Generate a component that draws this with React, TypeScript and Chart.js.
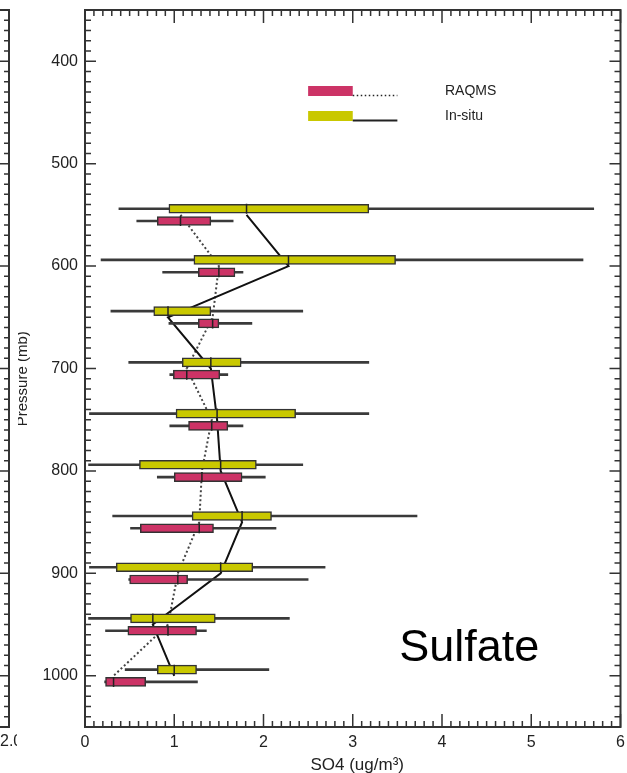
import { useEffect, useRef } from "react";
import { Chart, registerables } from "chart.js";

Chart.register(...registerables);

// Pressure layers (mb) – centre of each layer
const levels = [550, 600, 650, 700, 750, 800, 850, 900, 950, 1000];

// In-situ SO4 (ug/m3) statistics per layer
const insituMin = [0.38, 0.18, 0.29, 0.49, 0.05, 0.04, 0.31, 0.05, 0.04, 0.45];
const insituQ1 = [0.94, 1.22, 0.77, 1.09, 1.02, 0.61, 1.2, 0.35, 0.51, 0.81];
const insituMed = [1.81, 2.28, 0.93, 1.41, 1.48, 1.52, 1.76, 1.52, 0.76, 1.0];
const insituQ3 = [3.18, 3.48, 1.41, 1.75, 2.36, 1.92, 2.09, 1.88, 1.46, 1.25];
const insituMax = [5.7, 5.58, 2.44, 3.18, 3.18, 2.44, 3.72, 2.69, 2.29, 2.06];

// RAQMS SO4 (ug/m3) statistics per layer
const raqmsMin = [0.58, 0.87, 0.94, 0.95, 0.95, 0.81, 0.51, 0.49, 0.23, 0.22];
const raqmsQ1 = [0.81, 1.27, 1.27, 0.99, 1.16, 1.0, 0.62, 0.5, 0.48, 0.23];
const raqmsMed = [1.07, 1.5, 1.43, 1.14, 1.42, 1.31, 1.28, 1.04, 0.93, 0.32];
const raqmsQ3 = [1.41, 1.68, 1.5, 1.51, 1.6, 1.76, 1.44, 1.15, 1.25, 0.68];
const raqmsMax = [1.66, 1.77, 1.87, 1.6, 1.77, 2.02, 2.14, 2.5, 1.36, 1.26];

const xTickValues = [0, 1, 2, 3, 4, 5, 6];
const yTickValues = [400, 500, 600, 700, 800, 900, 1000];

const X_MIN = 0;
const X_MAX = 6;
const P_TOP = 350;
const P_BOTTOM = 1050;

const legendLabels = ["RAQMS", "In-situ"];
const panelLabel = "Sulfate";
const xTitle = "SO4 (ug/m\u00B3)";
const yTitle = "Pressure (mb)";
const leftPanelTick = "2.0";

const YELLOW = "#c9c800";
const PINK = "#cc3366";
const FONT = "'Liberation Sans', Arial, Helvetica, sans-serif";
const OFFSET = 6; // box offset from layer centre (mb)

const decorPlugin = {
  id: "decor",
  afterDatasetsDraw(chart: any) {
    const { ctx, chartArea: a, scales } = chart;
    const x = scales.x;
    const y = scales.y;
    ctx.save();
    // frame
    ctx.strokeStyle = "#333";
    ctx.lineWidth = 2;
    ctx.strokeRect(a.left, a.top, a.right - a.left, a.bottom - a.top);
    // ticks
    ctx.lineWidth = 1.5;
    ctx.beginPath();
    for (let i = 0; i <= 60; i++) {
      const px = x.getPixelForValue(i / 10);
      const len = i % 10 === 0 ? 13 : 6;
      ctx.moveTo(px, a.bottom);
      ctx.lineTo(px, a.bottom - len);
      ctx.moveTo(px, a.top);
      ctx.lineTo(px, a.top + len);
    }
    for (let p = P_TOP; p <= P_BOTTOM; p += 10) {
      const py = y.getPixelForValue(p);
      const len = p % 100 === 0 ? 11 : 6;
      ctx.moveTo(a.left, py);
      ctx.lineTo(a.left + len, py);
      ctx.moveTo(a.right, py);
      ctx.lineTo(a.right - len, py);
    }
    ctx.stroke();

    // partial neighbouring panel on the left
    const lx = 9;
    ctx.lineWidth = 2;
    ctx.beginPath();
    ctx.moveTo(0, a.top);
    ctx.lineTo(lx, a.top);
    ctx.lineTo(lx, a.bottom);
    ctx.lineTo(0, a.bottom);
    ctx.stroke();
    ctx.lineWidth = 1.5;
    ctx.beginPath();
    for (let p = P_TOP; p <= P_BOTTOM; p += 10) {
      const py = y.getPixelForValue(p);
      const len = p % 100 === 0 ? 9 : 5;
      ctx.moveTo(lx, py);
      ctx.lineTo(lx - len, py);
    }
    ctx.stroke();

    ctx.fillStyle = "#222";
    ctx.font = `16px ${FONT}`;
    ctx.textBaseline = "middle";
    ctx.save();
    ctx.beginPath();
    ctx.rect(0, a.bottom + 2, 17, 40);
    ctx.clip();
    ctx.textAlign = "left";
    ctx.fillText(leftPanelTick, 0, 742);
    ctx.restore();

    // y title (clipped by neighbour panel)
    ctx.save();
    ctx.beginPath();
    ctx.rect(18, a.top, 40, a.bottom - a.top);
    ctx.clip();
    ctx.translate(27, y.getPixelForValue(710));
    ctx.rotate(-Math.PI / 2);
    ctx.textAlign = "center";
    ctx.textBaseline = "alphabetic";
    ctx.font = `15px ${FONT}`;
    ctx.fillText(yTitle, 0, 0);
    ctx.restore();

    // x title
    ctx.textAlign = "center";
    ctx.font = `17px ${FONT}`;
    ctx.fillText(xTitle, x.getPixelForValue(3.05), 765);

    // legend
    const lx0 = x.getPixelForValue(2.5);
    const lx1 = x.getPixelForValue(3.0);
    const lx2 = x.getPixelForValue(3.5);
    const tx = x.getPixelForValue(4.0) + 3;
    const rows = [
      { top: 86, color: PINK, dash: [1.5, 2.5], label: legendLabels[0] },
      { top: 111, color: YELLOW, dash: [], label: legendLabels[1] },
    ];
    rows.forEach((r) => {
      ctx.fillStyle = r.color;
      ctx.fillRect(lx0, r.top, lx1 - lx0, 10);
      ctx.strokeStyle = "#222";
      ctx.lineWidth = r.dash.length ? 1.5 : 2;
      ctx.setLineDash(r.dash);
      ctx.beginPath();
      ctx.moveTo(lx1, r.top + 9.5);
      ctx.lineTo(lx2, r.top + 9.5);
      ctx.stroke();
      ctx.setLineDash([]);
      ctx.fillStyle = "#222";
      ctx.font = `14px ${FONT}`;
      ctx.textAlign = "left";
      ctx.textBaseline = "middle";
      ctx.fillText(r.label, tx, r.top + 5);
    });

    // panel label
    ctx.fillStyle = "#000";
    ctx.font = `45px ${FONT}`;
    ctx.textAlign = "left";
    ctx.textBaseline = "alphabetic";
    ctx.fillText(panelLabel, x.getPixelForValue(3.52), 661);
    ctx.restore();
  },
};

export default function App() {
  const ref = useRef<HTMLCanvasElement>(null);

  useEffect(() => {
    if (!ref.current) return;
    const yIn = levels.map((l) => l - OFFSET);
    const yRa = levels.map((l) => l + OFFSET);

    const chart = new Chart(ref.current, {
      type: "bar",
      data: {
        datasets: [
          {
            type: "line",
            label: "In-situ median",
            data: levels.map((l, i) => ({ x: insituMed[i], y: l })),
            borderColor: "#111",
            borderWidth: 2,
            pointRadius: 0,
            order: 5,
          } as any,
          {
            type: "line",
            label: "RAQMS median",
            data: levels.map((l, i) => ({ x: raqmsMed[i], y: l })),
            borderColor: "#444",
            borderWidth: 2,
            borderDash: [2, 2.5],
            pointRadius: 0,
            order: 5,
          } as any,
          {
            type: "bar",
            label: "In-situ range",
            data: yIn.map((p, i) => ({ x: [insituMin[i], insituMax[i]], y: p })),
            backgroundColor: "#3a3a3a",
            barThickness: 2,
            grouped: false,
            borderWidth: 0,
            order: 4,
          } as any,
          {
            type: "bar",
            label: "RAQMS range",
            data: yRa.map((p, i) => ({ x: [raqmsMin[i], raqmsMax[i]], y: p })),
            backgroundColor: "#3a3a3a",
            barThickness: 2,
            grouped: false,
            borderWidth: 0,
            order: 4,
          } as any,
          {
            type: "bar",
            label: "In-situ",
            data: yIn.map((p, i) => ({ x: [insituQ1[i], insituQ3[i]], y: p })),
            backgroundColor: YELLOW,
            borderColor: "#333",
            borderWidth: 1.5,
            borderSkipped: false,
            barThickness: 9,
            grouped: false,
            order: 3,
          } as any,
          {
            type: "bar",
            label: "RAQMS",
            data: yRa.map((p, i) => ({ x: [raqmsQ1[i], raqmsQ3[i]], y: p })),
            backgroundColor: PINK,
            borderColor: "#333",
            borderWidth: 1.5,
            borderSkipped: false,
            barThickness: 9,
            grouped: false,
            order: 3,
          } as any,
          {
            type: "scatter",
            label: "In-situ median tick",
            data: yIn.map((p, i) => ({ x: insituMed[i], y: p })),
            pointStyle: "line",
            rotation: 90,
            radius: 5,
            borderColor: "#222",
            borderWidth: 1.5,
            order: 1,
          } as any,
          {
            type: "scatter",
            label: "RAQMS median tick",
            data: yRa.map((p, i) => ({ x: raqmsMed[i], y: p })),
            pointStyle: "line",
            rotation: 90,
            radius: 5,
            borderColor: "#222",
            borderWidth: 1.5,
            order: 1,
          } as any,
        ],
      },
      options: {
        indexAxis: "y",
        responsive: false,
        animation: false,
        devicePixelRatio: 1,
        layout: { padding: { top: 10, right: 5, left: 0, bottom: 0 } },
        plugins: { legend: { display: false }, tooltip: { enabled: false } },
        scales: {
          x: {
            type: "linear",
            position: "bottom",
            min: X_MIN,
            max: X_MAX,
            offset: false,
            afterBuildTicks: (s: any) => {
              s.ticks = xTickValues.map((v) => ({ value: v }));
            },
            afterFit: (s: any) => {
              s.height = 46;
              s.paddingLeft = 0;
              s.paddingRight = 0;
            },
            grid: { display: false, drawTicks: false, offset: false },
            border: { display: false },
            ticks: {
              padding: 6,
              color: "#222",
              font: { family: FONT, size: 16 },
              maxRotation: 0,
              callback: (v: any) => String(v),
            },
          },
          y: {
            type: "linear",
            position: "left",
            reverse: true,
            min: P_TOP,
            max: P_BOTTOM,
            offset: false,
            afterBuildTicks: (s: any) => {
              s.ticks = yTickValues.map((v) => ({ value: v }));
            },
            afterFit: (s: any) => {
              s.width = 85;
              s.paddingTop = 0;
              s.paddingBottom = 0;
            },
            grid: { display: false, drawTicks: false, offset: false },
            border: { display: false },
            ticks: {
              padding: 7,
              color: "#222",
              font: { family: FONT, size: 16 },
              callback: (v: any) => String(v),
            },
          },
        },
      } as any,
      plugins: [decorPlugin],
    });
    return () => chart.destroy();
  }, []);

  return (
    <div
      style={{
        position: "fixed",
        left: 0,
        top: 0,
        width: 627,
        height: 773,
        background: "#fff",
      }}
    >
      <canvas ref={ref} width={627} height={773} style={{ width: 627, height: 773, display: "block" }} />
    </div>
  );
}
